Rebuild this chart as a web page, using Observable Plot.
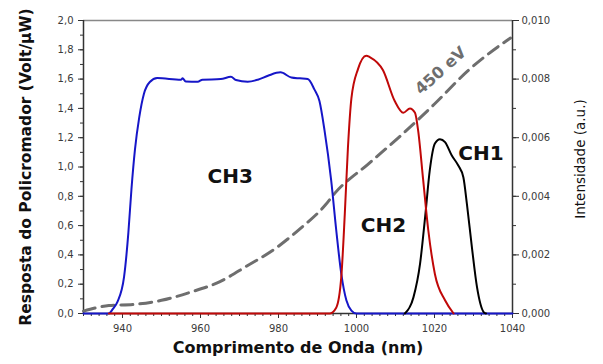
<!DOCTYPE html>
<html>
<head>
<meta charset="utf-8">
<script src="https://cdn.jsdelivr.net/npm/d3@7"></script>
<script src="https://cdn.jsdelivr.net/npm/@observablehq/plot@0.6"></script>
<style>
  html, body { margin: 0; padding: 0; background: #fff; }
  #chart svg { display: block; font-family: "DejaVu Sans", sans-serif; }
</style>
</head>
<body>
<div id="chart"></div>
<script>
// ---- Data ----
const xTicks = [940, 960, 980, 1000, 1020, 1040];
const yTicks = [0, 0.2, 0.4, 0.6, 0.8, 1.0, 1.2, 1.4, 1.6, 1.8, 2.0];
const rightTicks = [0, 0.002, 0.004, 0.006, 0.008, 0.010];

const ch3X = [930, 936.5, 937.5, 938.7, 940.4, 941.5, 942.3, 943.2, 944.3, 945.5, 947, 948.9, 955, 955.4, 956.2, 959.3, 960.5, 965.2, 967.8, 969.1, 972.1, 974.7, 977.3, 980.5, 983.3, 985.5, 987.5, 989.2, 990.5, 991.8, 993.5, 994.8, 996.1, 997.4, 998.7, 1000, 1040];
const ch3V = [0, 0, 0.03, 0.08, 0.25, 0.55, 0.85, 1.12, 1.34, 1.50, 1.58, 1.607, 1.596, 1.605, 1.584, 1.582, 1.596, 1.60, 1.616, 1.594, 1.582, 1.596, 1.623, 1.646, 1.611, 1.605, 1.60, 1.53, 1.45, 1.25, 0.91, 0.57, 0.27, 0.09, 0.02, 0, 0];

const ch2X = [936.5, 993.1, 994.8, 996.1, 997, 997.8, 998.7, 1000.4, 1002.5, 1003.4, 1006.8, 1009.8, 1012, 1013.7, 1015, 1015.8, 1017.1, 1018.4, 1020.1, 1022.7, 1024.9];
const ch2V = [0, 0, 0.04, 0.25, 0.68, 1.13, 1.47, 1.67, 1.76, 1.75, 1.66, 1.45, 1.37, 1.40, 1.37, 1.25, 0.91, 0.57, 0.27, 0.09, 0];

const ch1X = [1012.4, 1014.6, 1016.3, 1017.6, 1018.8, 1020.1, 1021.4, 1022.7, 1024.4, 1026.1, 1027.4, 1028.3, 1029.6, 1030.9, 1032.6, 1033.2];
const ch1V = [0, 0.11, 0.34, 0.66, 0.98, 1.16, 1.19, 1.17, 1.08, 1.01, 0.93, 0.75, 0.45, 0.18, 0.01, 0];

const ev450X = [930, 936.5, 943, 950, 957.5, 965, 972, 979, 985.5, 992, 994.4, 1003, 1011.6, 1020, 1028.7, 1037.3, 1039.5];
const ev450I = [0.00008, 0.00027, 0.00031, 0.00045, 0.00073, 0.00109, 0.00163, 0.0022, 0.00289, 0.0037, 0.0041, 0.0051, 0.0061, 0.00715, 0.0083, 0.0092, 0.0094];

const labels = [
  {text: "CH3", x: 967.6, v: 0.934},
  {text: "CH2", x: 1006.9, v: 0.60},
  {text: "CH1", x: 1031.9, v: 1.09}
];
const evLabel = [{text: "450 eV", x: 1021.6, v: 1.657}];

// ---- Build tables ----
const ch3 = ch3X.map((x, i) => ({x, v: ch3V[i]}));
const ch2 = ch2X.map((x, i) => ({x, v: ch2V[i]}));
const ch1 = ch1X.map((x, i) => ({x, v: ch1V[i]}));
const ev = ev450X.map((x, i) => ({x, intensity: ev450I[i]}));
const ratio = 2.0 / 0.010; // right axis to left axis

const comma = (d, n) => d.toFixed(n).replace(".", ",");
const axisColor = "#333";
const tickText = "#3a3a3a";

const chart = Plot.plot({
  width: 603,
  height: 364,
  marginLeft: 83,
  marginRight: 91,
  marginTop: 20,
  marginBottom: 51,
  style: {fontFamily: "DejaVu Sans, sans-serif", color: "#333", background: "#fff"},
  x: {domain: [930, 1040]},
  y: {domain: [0, 2]},
  marks: [
    // frame lines
    Plot.ruleY([2.0], {stroke: "#888", strokeWidth: 1.5}),
    Plot.ruleX([930, 1040], {stroke: axisColor, strokeWidth: 1.5}),
    Plot.ruleY([0], {stroke: axisColor, strokeWidth: 1.5}),
    // x axis
    Plot.axisX({ticks: d3.range(930, 1041, 2), tickSize: 3, tickFormat: () => "", label: null, stroke: axisColor}),
    Plot.axisX({ticks: xTicks, tickSize: 5, tickPadding: 6, tickFormat: d => String(d), label: null, fontSize: 10, stroke: axisColor, fill: tickText}),
    // left axis
    Plot.axisY({ticks: d3.range(0, 2.001, 0.1), tickSize: 3, tickFormat: () => "", label: null, stroke: axisColor}),
    Plot.axisY({ticks: yTicks, tickSize: 5, tickPadding: 5, tickFormat: d => comma(d, 1), label: null, fontSize: 10, stroke: axisColor, fill: tickText}),
    // right axis
    Plot.axisY({anchor: "right", ticks: d3.range(0, 0.01001, 0.001).map(d => d * ratio), tickSize: 3, tickFormat: () => "", label: null, stroke: axisColor}),
    Plot.axisY({anchor: "right", ticks: rightTicks.map(d => d * ratio), tickSize: 6, tickPadding: 3, tickFormat: d => comma(d / ratio, 3), label: null, fontSize: 10, stroke: axisColor, fill: tickText}),
    // curves
    Plot.line(ev, {x: "x", y: d => d.intensity * ratio, stroke: "#6e6e6e", strokeWidth: 3, strokeDasharray: "12,7", curve: "monotone-x"}),
    Plot.line(ch3, {x: "x", y: "v", stroke: "#1616c8", strokeWidth: 2, curve: "monotone-x"}),
    Plot.line(ch1, {x: "x", y: "v", stroke: "#000", strokeWidth: 2, curve: "monotone-x"}),
    Plot.line(ch2, {x: "x", y: "v", stroke: "#c00808", strokeWidth: 2, curve: "monotone-x"}),
    // labels
    Plot.text(labels, {x: "x", y: "v", text: "text", fontSize: 20, fontWeight: "bold", fill: "#111"}),
    Plot.text(evLabel, {x: "x", y: "v", text: "text", fontSize: 16, fontWeight: "bold", fill: "#6e6e6e", rotate: -42}),
    // axis titles
    Plot.text(["Resposta do Policromador (Volt/\u03bcW)"], {frameAnchor: "left", textAnchor: "middle", rotate: -90, dx: -57, fontSize: 15.5, fontWeight: "bold", fill: "#111"}),
    Plot.text(["Intensidade (a.u.)"], {frameAnchor: "right", textAnchor: "middle", rotate: -90, dx: 68, dy: -8, fontSize: 13.5, fill: "#111"}),
    Plot.text(["Comprimento de Onda (nm)"], {frameAnchor: "bottom", dy: 39, fontSize: 16, fontWeight: "bold", fill: "#111"})
  ]
});
document.getElementById("chart").appendChild(chart);
</script>
</body>
</html>
